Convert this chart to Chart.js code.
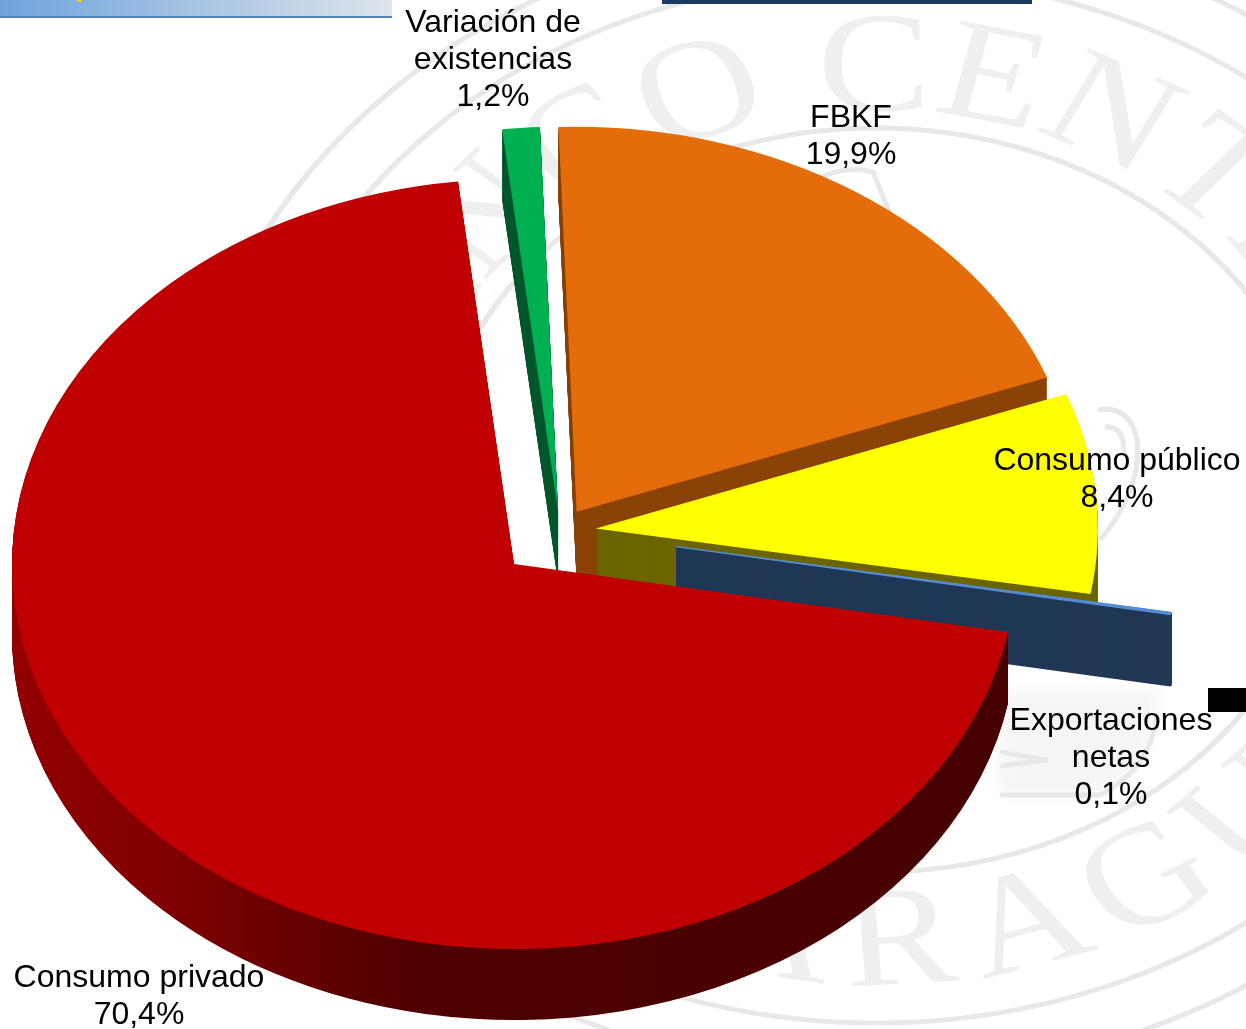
<!DOCTYPE html>
<html lang="es">
<head>
<meta charset="UTF-8">
<title>Componentes del gasto</title>
<script src="https://cdn.jsdelivr.net/npm/chart.js@4/dist/chart.umd.min.js"></script>
<style>
    html, body { margin: 0; padding: 0; background: #fff; }
    #page { position: relative; width: 1246px; height: 1029px; overflow: hidden; }
    #page > * { position: absolute; }
    #seal { left: 0; top: 0; }
    #pie { left: 0; top: 0; }
    #headBand { left: 0; top: 0; width: 392px; height: 16px; background: linear-gradient(90deg, #6fa3dc, #dfe4ea); border-bottom: 2px solid #4f81bd; }
    #headMark { left: 77px; top: 0; width: 4px; height: 2px; background: #f5c800; }
    #headBar { left: 662px; top: 0; width: 370px; height: 4px; background: #1a3a60; }
    #blackTab { left: 1208px; top: 688px; width: 38px; height: 24px; background: #000; }
</style>
</head>
<body>
<div id="page">
    <!-- sello de fondo -->
    <svg id="seal" width="1246" height="1029" viewBox="0 0 1246 1029">
        <defs>
            <path id="arcTop" d="M -390 0 A 390 390 0 0 1 390 0"/>
            <path id="arcBottom" d="M -484 0 A 484 484 0 0 0 484 0"/>
            <filter id="soft"><feGaussianBlur stdDeviation="7"/></filter>
        </defs>
        <g transform="translate(876 500) scale(1.2 1)">
            <g fill="none" stroke="#e8e8e8" stroke-width="5">
                <circle r="372"/>
                <circle r="523"/>
                <circle r="575"/>
            </g>
            <g font-family="Liberation Serif" font-size="142" fill="#efefef">
                <text text-anchor="middle"><textPath href="#arcTop" startOffset="51%">BANCO CENTRAL</textPath></text>
                <text text-anchor="middle" letter-spacing="18"><textPath href="#arcBottom" startOffset="45%">DE NICARAGUA</textPath></text>
            </g>
        </g>
        <!-- restos del escudo -->
        <path d="M 1003 690 L 1157 690 Q 1155 770 1100 795 L 1000 795 Z" fill="#f5f5f5" filter="url(#soft)"/>
        <g fill="none" stroke="#e8e8e8" stroke-width="5">
            <path d="M 1098 410 Q 1130 405 1137 440 Q 1142 490 1100 540"/>
            <path d="M 1105 427 Q 1125 425 1124 455"/>
            <path d="M 1000 795 L 1100 795 Q 1150 770 1157 715"/>
            <path d="M 1000 752 L 1047 760 L 1000 766"/>
            <path d="M 817 240 L 820 178 Q 845 165 873 172 L 905 250"/>
        </g>
    </svg>
    <canvas id="pie" width="1246" height="1029"></canvas>
    <div id="headBand"></div>
    <div id="headMark"></div>
    <div id="headBar"></div>
    <div id="blackTab"></div>
</div>

<script>
    // Datos
    const categories = ['Variación de\nexistencias', 'FBKF', 'Consumo público', 'Exportaciones\nnetas', 'Consumo privado'];
    const shares = [1.2, 19.9, 8.4, 0.1, 70.4];

    // Colores de cara superior y pared
    const topColors = ['#00b050', '#e46c0a', '#ffff00', '#558ed5', '#c00000'];
    const wallColors = ['#00582c', '#8a4308', '#6b6500', '#203756', null];

    // Separación de cada porción, en px antes de aplastar la elipse
    const explode = [25, 30, 36, 118, 63];
    const labelSpots = [[493, 23], [851, 118], [1117, 461], [1111, 721], [139, 978]];

    const squash = 0.767;
    const depth = 71;
    const lineHeight = 37;

    function percentText(v) {
        return v.toFixed(1).replace('.', ',') + '%';
    }

    // Pastel 3D: dibuja los arcos de Chart.js aplastados y apilados
    const pie3d = {
        id: 'pie3d',
        beforeDatasetsDraw(chart) {
            const ctx = chart.ctx;
            const arcs = chart.getDatasetMeta(0).data;

            const redWall = ctx.createLinearGradient(12, 0, 1008, 0);
            redWall.addColorStop(0, '#990000');
            redWall.addColorStop(0.2, '#800000');
            redWall.addColorStop(0.45, '#4f0000');
            redWall.addColorStop(1, '#470000');

            function drawArc(arc, i, drop, color) {
                const mid = (arc.startAngle + arc.endAngle) / 2;
                const opts = arc.options;
                const saved = opts.backgroundColor;
                opts.backgroundColor = color;
                // la porción muy fina necesita borde o queda translúcida
                if (arc.circumference < 0.02) {
                    opts.borderWidth = drop > 0 ? 2.5 : 1.5;
                    opts.borderColor = color;
                }
                ctx.save();
                ctx.translate(arc.x + 1, arc.y + 2 + drop);
                ctx.scale(1, squash);
                ctx.translate(-arc.x, -arc.y);
                ctx.translate(Math.cos(mid) * explode[i], Math.sin(mid) * explode[i]);
                arc.draw(ctx);
                ctx.restore();
                opts.backgroundColor = saved;
            }

            arcs.forEach((arc, i) => {
                for (let d = depth; d > 0; d--) {
                    drawArc(arc, i, d, wallColors[i] || redWall);
                }
                drawArc(arc, i, 0, topColors[i]);
            });
            return false;
        },
        afterDraw(chart) {
            const ctx = chart.ctx;
            ctx.save();
            ctx.font = '32px "Liberation Sans"';
            ctx.fillStyle = '#000';
            ctx.textAlign = 'center';
            ctx.textBaseline = 'middle';
            categories.forEach((name, i) => {
                const lines = name.split('\n').concat(percentText(shares[i]));
                lines.forEach((line, n) => {
                    ctx.fillText(line, labelSpots[i][0], labelSpots[i][1] + n * lineHeight);
                });
            });
            ctx.restore();
        }
    };

    new Chart(document.getElementById('pie'), {
        type: 'pie',
        data: {
            labels: categories,
            datasets: [{
                data: shares,
                backgroundColor: topColors,
                borderWidth: 0,
                radius: '100.4%'
            }]
        },
        options: {
            responsive: false,
            animation: false,
            rotation: -6.4,
            layout: { padding: { right: 128, top: 29 } },
            plugins: {
                legend: { display: false },
                tooltip: { enabled: false }
            }
        },
        plugins: [pie3d]
    });
</script>
</body>
</html>
